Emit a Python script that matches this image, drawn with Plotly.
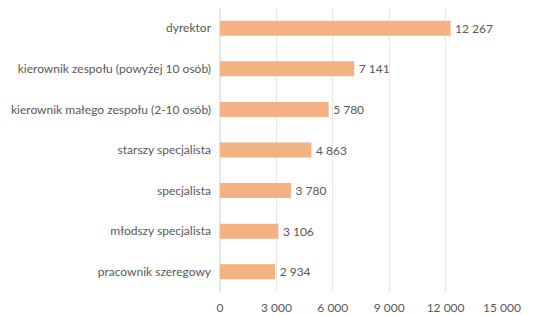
import plotly.graph_objects as go

categories = [
    "dyrektor",
    "kierownik zespołu (powyżej 10 osób)",
    "kierownik małego zespołu (2-10 osób)",
    "starszy specjalista",
    "specjalista",
    "młodszy specjalista",
    "pracownik szeregowy",
]
values = [12267, 7141, 5780, 4863, 3780, 3106, 2934]
tick_vals = [0, 3000, 6000, 9000, 12000, 15000]

FONT = "Lato"
GREY = "#595959"

fig = go.Figure(
    go.Bar(
        x=values,
        y=categories,
        orientation="h",
        marker=dict(color="#F4B183", line=dict(width=0)),
        texttemplate="\u2009%{x:,}",
        textposition="outside",
        textfont=dict(family=FONT, size=12, color=GREY),
        cliponaxis=False,
    )
)

fig.update_layout(
    width=537,
    height=307,
    margin=dict(l=212, r=43, t=0, b=23, autoexpand=False),
    paper_bgcolor="white",
    plot_bgcolor="white",
    separators=", ",
    bargap=0.63,
    showlegend=False,
    font=dict(family=FONT, size=12, color=GREY),
)
fig.update_xaxes(
    range=[0, 15000],
    tickvals=tick_vals,
    tickformat=",",
    showgrid=True,
    gridcolor="#E6E6E6",
    gridwidth=1,
    zeroline=True,
    zerolinecolor="#E6E6E6",
    showline=False,
    ticks="",
    ticklabelstandoff=7,
    automargin=False,
    tickfont=dict(family=FONT, size=12, color=GREY),
)
fig.update_yaxes(
    autorange="reversed",
    showgrid=False,
    showline=False,
    ticks="",
    ticklabelstandoff=8,
    automargin=False,
    tickfont=dict(family=FONT, size=12, color=GREY),
)

fig.write_html("out.html")
